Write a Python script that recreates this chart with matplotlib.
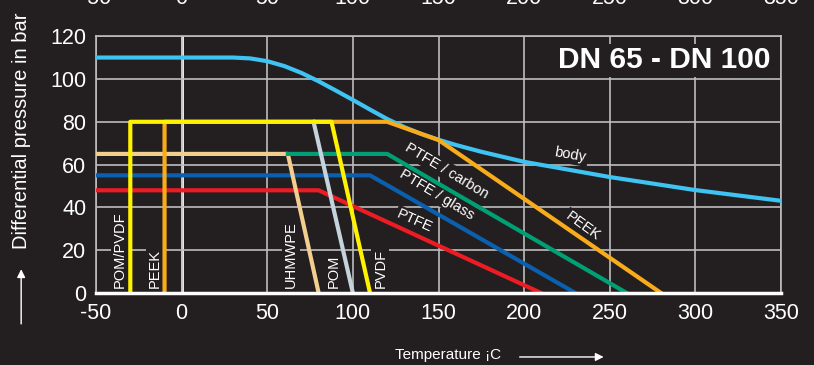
import matplotlib.pyplot as plt

# pressure/temperature diagram, DN 65 - DN 100
bg = "#231f20"

body_t = [-50, 20, 30, 40, 50, 60, 70, 80, 90, 100, 110, 120, 130, 140, 150, 160, 175, 200, 250, 300, 350]
body_p = [110, 110, 110, 109.6, 108.3, 106, 102.8, 98.9, 94.6, 90.2, 85.7, 81.3, 77.5, 74.3, 71.6, 69.2, 66, 61.3, 54.2, 48.1, 43.1]

pom_pvdf_t = [-30, -30, 87.5, 110]
pom_pvdf_p = [0, 80, 80, 0]
peek_t = [-10, -10, 120, 150, 280]
peek_p = [0, 80, 80, 71.5, 0]
uhmwpe_t = [-50, 62, 80]
uhmwpe_p = [65, 65, 0]
carbon_t = [62, 120, 260]
carbon_p = [65, 65, 0]
pom_t = [77, 100]
pom_p = [80, 0]
glass_t = [-50, 110, 230]
glass_p = [55, 55, 0]
ptfe_t = [-50, 80, 210]
ptfe_p = [48, 48, 0]

xticks = [-50, 0, 50, 100, 150, 200, 250, 300, 350]
yticks = [0, 20, 40, 60, 80, 100, 120]

plt.rcParams["font.family"] = ["Liberation Sans", "DejaVu Sans"]
plt.rcParams["axes.unicode_minus"] = False
fig = plt.figure(figsize=(8.14, 3.65), dpi=100, facecolor=bg)
ax = fig.add_axes([0.118, 0.197, 0.8415, 0.704], facecolor=bg)

ax.set_xlim(-50, 350)
ax.set_ylim(0, 120)
ax.set_xticks(xticks)
ax.set_yticks(yticks)
ax.tick_params(colors="white", labelsize=15.5, length=0, pad=7)
ax.grid(color="#bdbdbd", lw=1.2, zorder=1)
ax.axvline(0, color="white", lw=2, zorder=1.5)
for s in ["left", "top", "right"]:
    ax.spines[s].set_color("#bdbdbd")
    ax.spines[s].set_linewidth(1.2)
ax.spines["bottom"].set_color("white")
ax.spines["bottom"].set_linewidth(2.5)
ax.spines["bottom"].set_zorder(5)

lw = 3
ax.plot(glass_t, glass_p, color="#0a5fae", lw=lw, zorder=3)
ax.plot(ptfe_t, ptfe_p, color="#ed1c24", lw=lw, zorder=3)
ax.plot(uhmwpe_t, uhmwpe_p, color="#f2cf8f", lw=lw, zorder=3)
ax.plot(carbon_t, carbon_p, color="#00a074", lw=lw, zorder=3)
ax.plot(body_t, body_p, color="#3ec3f2", lw=lw, zorder=3)
ax.plot(peek_t, peek_p, color="#f9ac1b", lw=lw, zorder=3.2)
ax.plot(pom_t, pom_p, color="#c5d3dc", lw=lw, zorder=3.1)
ax.plot(pom_pvdf_t, pom_pvdf_p, color="#fff200", lw=lw, zorder=3.3)

box = dict(facecolor=bg, edgecolor="none", pad=1.5)
for lab, x in [("POM/PVDF", -36), ("PEEK", -15.5), ("UHMWPE", 64), ("POM", 89), ("PVDF", 116)]:
    ax.text(x, 2.5, lab, rotation=90, color="white", fontsize=10.5,
            ha="center", va="bottom", bbox=box, zorder=2)

slanted = [("body", 227, 64.5, -10), ("PTFE / carbon", 155, 57, -31),
           ("PTFE / glass", 149, 46, -31), ("PTFE", 136, 33.5, -24), ("PEEK", 234, 31, -36)]
for lab, x, y, r in slanted:
    ax.text(x, y, lab, rotation=r, rotation_mode="anchor", color="white", fontsize=10.5,
            ha="center", va="center", bbox=box, zorder=2)

ax.text(0.985, 0.96, "DN 65 - DN 100", transform=ax.transAxes, color="white",
        fontsize=21.5, fontweight="bold", ha="right", va="top",
        bbox=dict(facecolor=bg, edgecolor="none", pad=2), zorder=2)

# cut-off tick labels along the top edge
for t in xticks:
    fig.text(0.118 + 0.8415 * (t + 50) / 400, 1 - 4 / 365, str(t), color="white",
             fontsize=15.5, ha="center", va="baseline")

fig.text(0.027, 0.641, "Differential pressure in bar", rotation=90, color="white",
         fontsize=14.5, ha="center", va="center")
ax.annotate("", xy=(0.026, 0.27), xytext=(0.026, 0.105), xycoords="figure fraction",
            arrowprops=dict(arrowstyle="-|>", color="white", lw=1, mutation_scale=12))
fig.text(0.55, 0.027, "Temperature ¡C", color="white", fontsize=11, ha="center", va="center")
ax.annotate("", xy=(0.745, 0.022), xytext=(0.635, 0.022), xycoords="figure fraction",
            arrowprops=dict(arrowstyle="-|>", color="white", lw=1, mutation_scale=12))

fig.savefig("out.png", dpi=100, facecolor=bg)
